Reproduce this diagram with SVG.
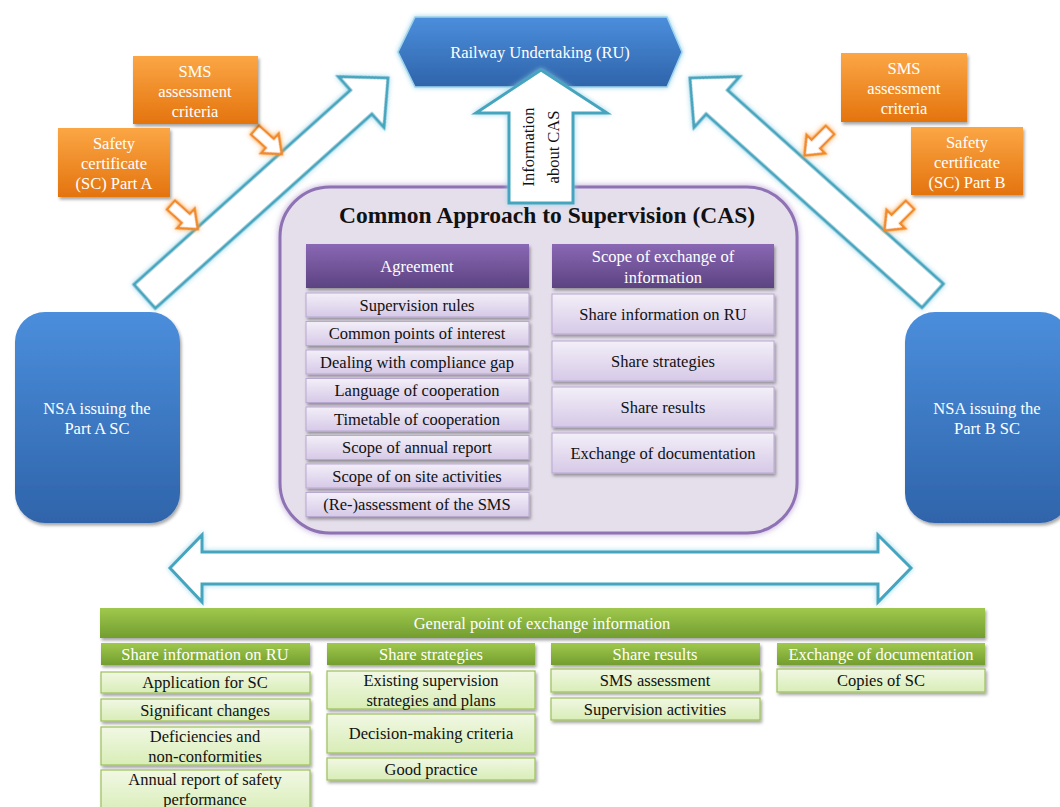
<svg xmlns="http://www.w3.org/2000/svg" width="1060" height="807" viewBox="0 0 1060 807" font-family="'Liberation Serif', 'Times New Roman', 'DejaVu Serif', serif">
<defs>
<linearGradient id="gBlue" x1="0" y1="0" x2="0" y2="1"><stop offset="0" stop-color="#4B8EDC"/><stop offset="1" stop-color="#2F64AA"/></linearGradient>
<linearGradient id="gOrange" x1="0" y1="0" x2="0" y2="1"><stop offset="0" stop-color="#FBA645"/><stop offset="1" stop-color="#E4740E"/></linearGradient>
<linearGradient id="gPurple" x1="0" y1="0" x2="0" y2="1"><stop offset="0" stop-color="#8A68B4"/><stop offset="1" stop-color="#5C4381"/></linearGradient>
<linearGradient id="gLilac" x1="0" y1="0" x2="0" y2="1"><stop offset="0" stop-color="#F3EFF8"/><stop offset="1" stop-color="#D6C9E7"/></linearGradient>
<linearGradient id="gGreen" x1="0" y1="0" x2="0" y2="1"><stop offset="0" stop-color="#A0C84E"/><stop offset="1" stop-color="#739E2F"/></linearGradient>
<linearGradient id="gLime" x1="0" y1="0" x2="0" y2="1"><stop offset="0" stop-color="#F1F8E4"/><stop offset="1" stop-color="#D8EDB6"/></linearGradient>
<filter id="shadow" x="-10%" y="-10%" width="130%" height="140%"><feDropShadow dx="1.5" dy="2.5" stdDeviation="1.5" flood-color="#000" flood-opacity="0.35"/></filter>
<filter id="glowBlue" x="-20%" y="-20%" width="140%" height="140%"><feDropShadow dx="0" dy="0" stdDeviation="2.5" flood-color="#8FD0E6" flood-opacity="0.9"/></filter>
<filter id="glowOrange" x="-40%" y="-40%" width="180%" height="180%"><feDropShadow dx="0" dy="0" stdDeviation="2.5" flood-color="#F9A040" flood-opacity="0.9"/></filter>
<filter id="glowPurple" x="-10%" y="-10%" width="120%" height="120%"><feDropShadow dx="0" dy="0" stdDeviation="3" flood-color="#A68BC9" flood-opacity="0.8"/></filter>
<style>
text{font-family:'Liberation Serif','Times New Roman','DejaVu Serif',serif;text-anchor:middle;}
.w{fill:#FFFFFF;font-size:16.5px;}
.k{fill:#111111;font-size:16.5px;}
.big{stroke:#45A5BE;stroke-width:3;fill:#FFFFFF;stroke-linejoin:miter;filter:url(#glowBlue);}
.small{stroke:#F08A2A;stroke-width:2.5;fill:#FFFFFF;filter:url(#glowOrange);}
.blue{fill:url(#gBlue);filter:url(#shadow);}
.orange{fill:url(#gOrange);filter:url(#shadow);}
.phead{fill:url(#gPurple);filter:url(#shadow);}
.pitem{fill:url(#gLilac);stroke:#B9A8D0;stroke-width:1;filter:url(#shadow);}
.ghead{fill:url(#gGreen);filter:url(#shadow);}
.gitem{fill:url(#gLime);stroke:#9DC05A;stroke-width:1.2;filter:url(#shadow);}
</style>
</defs>
<rect width="1060" height="807" fill="#FFFFFF"/>

<g id="connectors">
<polygon class="big" transform="translate(388,78) rotate(138.1)" points="0,0 36,-34 36,-16 327,-16 327,16 36,16 36,34"/>
<polygon class="big" transform="translate(690,78) rotate(41.9)" points="0,0 36,-34 36,-16 326,-16 326,16 36,16 36,34"/>
<polygon class="small" transform="translate(255,130) rotate(42)" points="0,-6 20,-6 20,-13 36,0 20,13 20,6 0,6"/>
<polygon class="small" transform="translate(171,205) rotate(42)" points="0,-6 20,-6 20,-13 36,0 20,13 20,6 0,6"/>
<polygon class="small" transform="translate(830,130) rotate(135)" points="0,-6 20,-6 20,-13 36,0 20,13 20,6 0,6"/>
<polygon class="small" transform="translate(910,205) rotate(135)" points="0,-6 20,-6 20,-13 36,0 20,13 20,6 0,6"/>
<polygon class="big" points="170,568 202,535 202,552 878,552 878,535 911,568 878,602 878,584 202,584 202,602"/>
</g>

<g id="ru">
<polygon points="398,52 415,17 667,17 682,52 667,87 415,87" fill="url(#gBlue)" stroke="#9FD3EC" stroke-width="1.5" filter="url(#glowBlue)"/>
<text class="w" x="540" y="58">Railway Undertaking (RU)</text>
</g>

<g id="sms-a">
<rect class="orange" x="133" y="56" width="125" height="68"/>
<text class="w" x="195" y="77">SMS</text>
<text class="w" x="195" y="97">assessment</text>
<text class="w" x="195" y="117">criteria</text>
</g>
<g id="sc-a">
<rect class="orange" x="58" y="128" width="112" height="69"/>
<text class="w" x="114" y="149">Safety</text>
<text class="w" x="114" y="169">certificate</text>
<text class="w" x="114" y="189">(SC) Part A</text>
</g>
<g id="sms-b">
<rect class="orange" x="841" y="53" width="126" height="69"/>
<text class="w" x="904" y="74">SMS</text>
<text class="w" x="904" y="94">assessment</text>
<text class="w" x="904" y="114">criteria</text>
</g>
<g id="sc-b">
<rect class="orange" x="911" y="127" width="112" height="68"/>
<text class="w" x="967" y="148">Safety</text>
<text class="w" x="967" y="168">certificate</text>
<text class="w" x="967" y="188">(SC) Part B</text>
</g>

<g id="nsa-a">
<rect class="blue" x="15" y="312" width="165" height="211" rx="30"/>
<text class="w" x="97" y="414">NSA issuing the</text>
<text class="w" x="97" y="434">Part A SC</text>
</g>
<g id="nsa-b">
<rect class="blue" x="905" y="312" width="165" height="211" rx="30"/>
<text class="w" x="987" y="414">NSA issuing the</text>
<text class="w" x="987" y="434">Part B SC</text>
</g>

<g id="cas">
<rect x="280" y="187" width="517" height="346" rx="50" fill="#E5DFEC" stroke="#8E72B4" stroke-width="3" filter="url(#glowPurple)"/>
<text x="547" y="223" style="font-size:23.5px;font-weight:bold;fill:#111">Common Approach to Supervision  (CAS)</text>
</g>

<g id="info-arrow">
<polygon class="big" points="541,70 607,113 573,113 573,203 509,203 509,113 476,113"/>
<text class="k" transform="translate(534,147) rotate(-90)">Information</text>
<text class="k" transform="translate(559,147) rotate(-90)">about  CAS</text>
</g>

<g id="agreement">
<rect class="phead" x="306" y="244" width="223" height="44"/>
<text class="w" x="417" y="272">Agreement</text>
<rect class="pitem" x="306" y="293" width="223" height="24"/><text class="k" x="417" y="310.5">Supervision rules</text>
<rect class="pitem" x="306" y="321.5" width="223" height="24"/><text class="k" x="417" y="339">Common points of interest</text>
<rect class="pitem" x="306" y="350" width="223" height="24"/><text class="k" x="417" y="367.5">Dealing with compliance gap</text>
<rect class="pitem" x="306" y="378.5" width="223" height="24"/><text class="k" x="417" y="396">Language of cooperation</text>
<rect class="pitem" x="306" y="407" width="223" height="24"/><text class="k" x="417" y="424.5">Timetable of cooperation</text>
<rect class="pitem" x="306" y="435.5" width="223" height="24"/><text class="k" x="417" y="453">Scope of annual report</text>
<rect class="pitem" x="306" y="464" width="223" height="24"/><text class="k" x="417" y="481.5">Scope of on site activities</text>
<rect class="pitem" x="306" y="492.5" width="223" height="24"/><text class="k" x="417" y="510">(Re-)assessment of the SMS</text>
</g>

<g id="scope">
<rect class="phead" x="552" y="244" width="222" height="44"/>
<text class="w" x="663" y="262">Scope of exchange of</text>
<text class="w" x="663" y="283">information</text>
<rect class="pitem" x="552" y="294" width="222" height="40"/><text class="k" x="663" y="319.5">Share information on RU</text>
<rect class="pitem" x="552" y="341" width="222" height="40"/><text class="k" x="663" y="366.5">Share strategies</text>
<rect class="pitem" x="552" y="387" width="222" height="40"/><text class="k" x="663" y="412.5">Share results</text>
<rect class="pitem" x="552" y="433" width="222" height="40"/><text class="k" x="663" y="458.5">Exchange of documentation</text>
</g>

<g id="general">
<rect class="ghead" x="100" y="608" width="885" height="30"/>
<text class="w" x="542" y="628.5">General point  of exchange information</text>
</g>

<g id="col-ru">
<rect class="ghead" x="101" y="643" width="209" height="22"/>
<text class="w" x="205" y="659.5">Share information  on RU</text>
<rect class="gitem" x="101" y="672" width="209" height="21"/><text class="k" x="205" y="688">Application  for SC</text>
<rect class="gitem" x="101" y="699" width="209" height="22"/><text class="k" x="205" y="715.5">Significant  changes</text>
<rect class="gitem" x="101" y="727" width="209" height="38"/><text class="k" x="205" y="742">Deficiencies and</text><text class="k" x="205" y="762">non-conformities</text>
<rect class="gitem" x="101" y="770" width="209" height="45"/><text class="k" x="205" y="785">Annual report of safety</text><text class="k" x="205" y="805">performance</text>
</g>

<g id="col-strat">
<rect class="ghead" x="327" y="643" width="208" height="22"/>
<text class="w" x="431" y="659.5">Share strategies</text>
<rect class="gitem" x="327" y="671" width="208" height="38"/><text class="k" x="431" y="686">Existing  supervision</text><text class="k" x="431" y="706">strategies and plans</text>
<rect class="gitem" x="327" y="714" width="208" height="39"/><text class="k" x="431" y="739">Decision-making  criteria</text>
<rect class="gitem" x="327" y="758" width="208" height="22"/><text class="k" x="431" y="774.5">Good practice</text>
</g>

<g id="col-results">
<rect class="ghead" x="551" y="643" width="209" height="22"/>
<text class="w" x="655" y="659.5">Share results</text>
<rect class="gitem" x="551" y="669" width="209" height="23"/><text class="k" x="655" y="686">SMS assessment</text>
<rect class="gitem" x="551" y="698" width="209" height="22"/><text class="k" x="655" y="714.5">Supervision  activities</text>
</g>

<g id="col-doc">
<rect class="ghead" x="777" y="643" width="208" height="22"/>
<text class="w" x="881" y="659.5">Exchange of documentation</text>
<rect class="gitem" x="777" y="669" width="208" height="23"/><text class="k" x="881" y="686">Copies of SC</text>
</g>
</svg>
